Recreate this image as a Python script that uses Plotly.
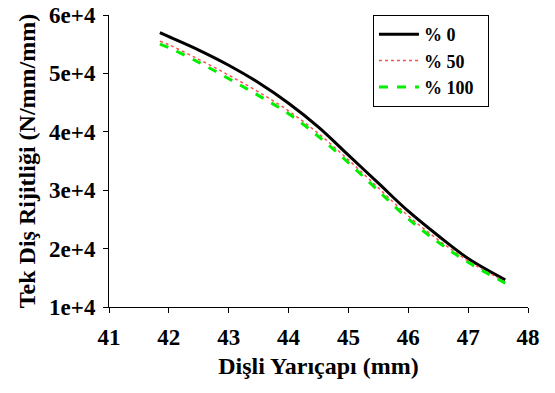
import plotly.graph_objects as go

# Data
x_vals = [41.85, 42.0, 42.5, 43.0, 43.5, 44.0, 44.5, 45.0, 45.5, 46.0, 46.5, 47.0, 47.62]
y_p0 = [57000, 56300, 54000, 51400, 48400, 44900, 40800, 36000, 31200, 26400, 22200, 18300, 14650]
y_p50 = [55500, 54900, 52400, 49700, 46800, 43600, 39700, 35200, 30400, 25600, 21500, 17900, 14300]
y_p100 = [55000, 54400, 51900, 49100, 46200, 43100, 39200, 34700, 29900, 25100, 21100, 17650, 14100]

series_names = ["% 0", "% 50", "% 100"]
x_ticks = [41, 42, 43, 44, 45, 46, 47, 48]
y_ticks = [10000, 20000, 30000, 40000, 50000, 60000]
y_tick_text = ["1e+4", "2e+4", "3e+4", "4e+4", "5e+4", "6e+4"]

FONT = "Liberation Serif"

def b(s):
    return "<b>" + s + "</b>"

fig = go.Figure()
fig.add_trace(go.Scatter(x=x_vals, y=y_p0, mode="lines", name=b(series_names[0]),
                         line=dict(color="black", width=3, shape="spline")))
fig.add_trace(go.Scatter(x=x_vals, y=y_p50, mode="lines", name=b(series_names[1]),
                         line=dict(color="#ff5050", width=1.5, dash="dot", shape="spline")))
fig.add_trace(go.Scatter(x=x_vals, y=y_p100, mode="lines", name=b(series_names[2]) + "\u00a0\u00a0",
                         line=dict(color="#00ee00", width=3, dash="dash", shape="spline")))

tickf = dict(family=FONT, size=23, color="black")
titlef = dict(family=FONT, size=24, color="black")

fig.update_layout(
    width=555, height=393,
    margin=dict(l=109, r=27, t=15, b=86),
    paper_bgcolor="white", plot_bgcolor="white",
    font=tickf,
    legend=dict(
        x=0.63, y=1.0, xanchor="left", yanchor="top",
        bgcolor="white", bordercolor="black", borderwidth=1,
        font=dict(family=FONT, size=18, color="black"),
        tracegroupgap=0, itemwidth=40,
    ),
    xaxis=dict(
        range=[41, 48], tickvals=x_ticks, ticktext=[b(str(v)) for v in x_ticks],
        showline=True, linecolor="black", linewidth=1,
        ticks="outside", ticklen=5, tickcolor="black",
        showgrid=False, zeroline=False, automargin=False,
        tickfont=tickf, ticklabelstandoff=4,
        title=dict(text=b("Dişli Yarıçapı (mm)"), font=titlef, standoff=8),
    ),
    yaxis=dict(
        range=[10000, 60000], tickvals=y_ticks, ticktext=[b(t) for t in y_tick_text],
        showline=True, linecolor="black", linewidth=1,
        ticks="outside", ticklen=5, tickcolor="black",
        showgrid=False, zeroline=False, automargin=False,
        tickfont=tickf, ticklabelstandoff=3,
        title=dict(text=b("Tek Diş Rijitliği (N/mm/mm)"), font=titlef, standoff=6),
    ),
)

fig.write_html("out.html", config={"displayModeBar": False})

with open("out.html", "r", encoding="utf-8") as f:
    html = f.read()
html = html.replace("<head>", "<head><style>html,body{margin:0;padding:0;}</style>", 1)
with open("out.html", "w", encoding="utf-8") as f:
    f.write(html)
